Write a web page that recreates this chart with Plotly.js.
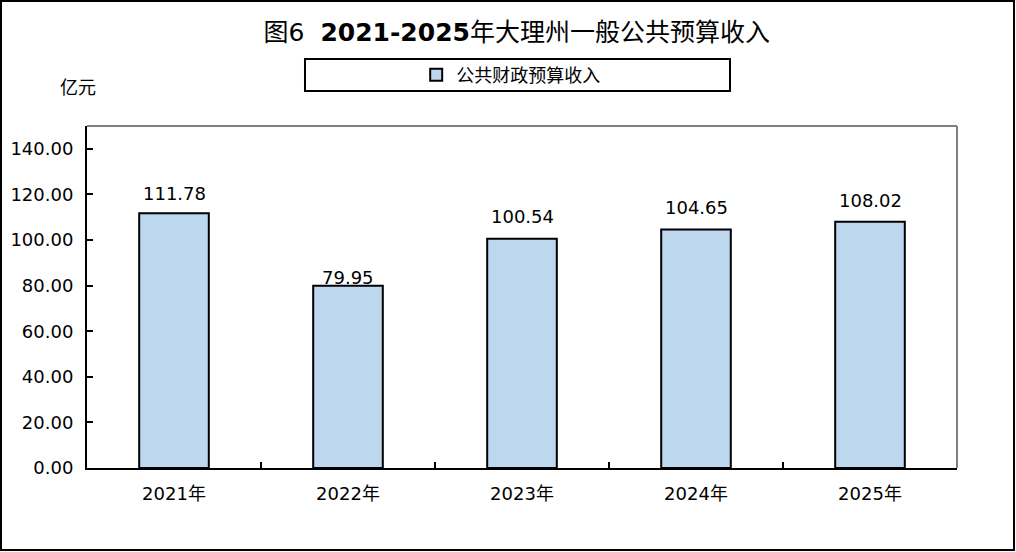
<!DOCTYPE html>
<html><head><meta charset="utf-8">
<script src="https://cdn.plot.ly/plotly-3.0.1.min.js"></script>
<style>html,body{margin:0;padding:0;background:#fff}#c{width:1016px;height:552px}</style>
</head><body><div id="c"></div>
<script>
const categories = ['2021年','2022年','2023年','2024年','2025年'];
const revenue = [111.78, 79.95, 100.54, 104.65, 108.02];
const seriesName = '公共财政预算收入';
const yTicks = [0,20,40,60,80,100,120,140];
const titleText = '图6&nbsp;&nbsp;<b>2021-2025</b>年大理州一般公共预算收入';
const unitText = '亿元';

const FONT = 'DejaVu Sans, Noto Sans CJK SC, sans-serif';
const labelShift = [20, 8, 22, 22, 21];

const trace = {
  type: 'bar', x: categories, y: revenue, name: seriesName,
  marker: {color: '#BDD7EE', line: {color: '#000', width: 2}},
  showlegend: true, hoverinfo: 'none'
};

const annotations = categories.map((c, i) => ({
  x: c, y: revenue[i], xref: 'x', yref: 'y', text: revenue[i].toFixed(2),
  showarrow: false, yanchor: 'middle', yshift: labelShift[i],
  font: {family: FONT, size: 18, color: '#000'}
}));
annotations.push({
  x: -0.0103, y: 1.114, xref: 'paper', yref: 'paper', text: unitText,
  showarrow: false, xanchor: 'center', yanchor: 'middle',
  font: {family: FONT, size: 18, color: '#000'}
});

const layout = {
  width: 1016, height: 552,
  margin: {l: 87, r: 59, t: 126, b: 84, pad: 0},
  paper_bgcolor: '#fff', plot_bgcolor: '#fff',
  font: {family: FONT, size: 18, color: '#000'},
  title: {text: titleText, x: 0.494, xref: 'paper', xanchor: 'center',
          y: 1 - 32/552, yref: 'container', yanchor: 'middle',
          font: {family: FONT, size: 25, color: '#000'}},
  bargap: 0.6,
  xaxis: {type: 'category', showgrid: false, zeroline: false,
          showline: true, linecolor: '#000', linewidth: 2,
          ticks: 'inside', tickson: 'boundaries', ticklen: 6, tickwidth: 2, tickcolor: '#000',
          ticklabelstandoff: 8,
          tickfont: {family: FONT, size: 18, color: '#000'}, fixedrange: true},
  yaxis: {range: [0, 150], showgrid: false, zeroline: false,
          showline: true, linecolor: '#000', linewidth: 2,
          tickvals: yTicks, tickformat: '.2f',
          ticks: 'inside', ticklen: 6, tickwidth: 2, tickcolor: '#000',
          ticklabelstandoff: 8,
          tickfont: {family: FONT, size: 18, color: '#000'}, fixedrange: true},
  legend: {x: 0.487, xanchor: 'center', y: 1.149, yanchor: 'middle',
           orientation: 'h', bgcolor: 'rgba(0,0,0,0)', borderwidth: 0,
           font: {family: FONT, size: 18, color: '#000'}},
  shapes: [
    {type: 'line', xref: 'paper', yref: 'paper', x0: 0, x1: 1, y0: 1, y1: 1,
     line: {color: '#808080', width: 2}, layer: 'below'},
    {type: 'line', xref: 'paper', yref: 'paper', x0: 1, x1: 1, y0: 0, y1: 1,
     line: {color: '#808080', width: 2}, layer: 'below'},
    {type: 'rect', xref: 'paper', yref: 'paper', x0: 0.25057, x1: 0.73908, y0: 1.10234, y1: 1.19591,
     line: {color: '#000', width: 2}, fillcolor: 'rgba(0,0,0,0)'},
    {type: 'rect', xref: 'paper', yref: 'paper', x0: -0.09885, x1: 1.06552, y0: -0.23977, y1: 1.3655,
     line: {color: '#000', width: 2}, fillcolor: 'rgba(0,0,0,0)'}
  ],
  annotations: annotations
};

Plotly.newPlot('c', [trace], layout, {staticPlot: true, displayModeBar: false});
</script></body></html>
